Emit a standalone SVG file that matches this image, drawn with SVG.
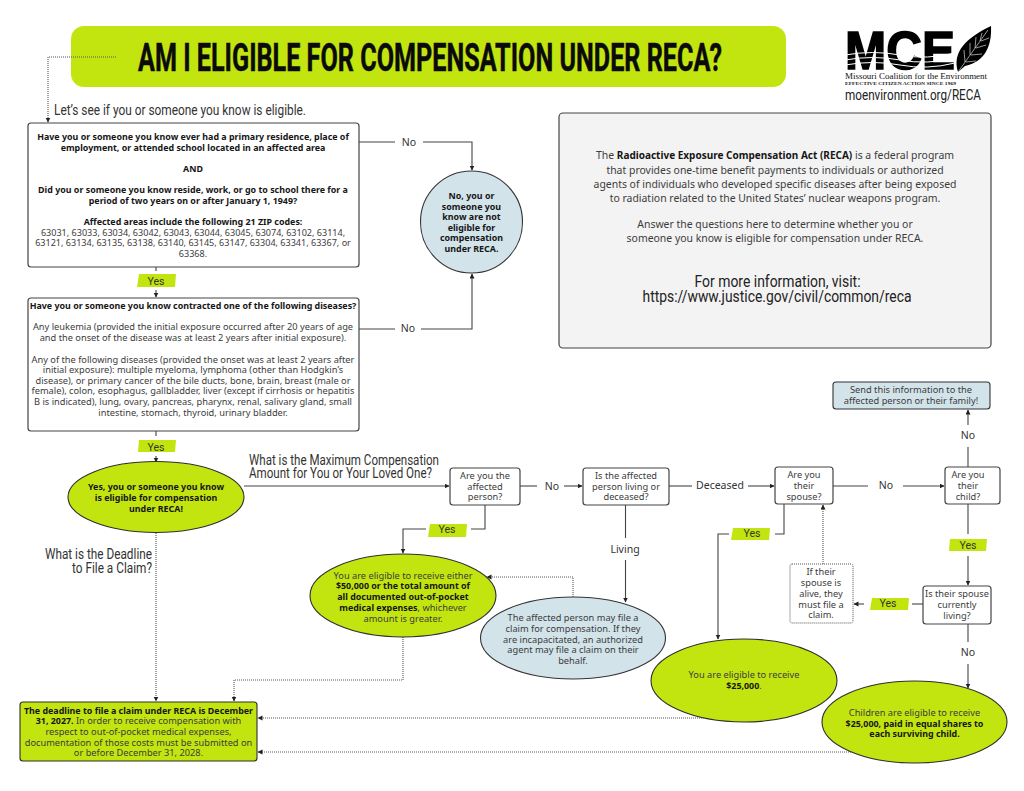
<svg xmlns="http://www.w3.org/2000/svg" width="1024" height="791" viewBox="0 0 1024 791">
<style>
text{font-family:"Noto Sans","Open Sans",sans-serif;font-size:9.25px;fill:#3c3c3c;text-anchor:middle}
.b{font-weight:700;fill:#161616;font-size:8.9px}
.n{font-family:"Liberation Sans Narrow","Roboto",sans-serif}
.h{font-family:"Liberation Sans Narrow","Roboto",sans-serif;fill:#333;text-anchor:start;font-size:15px}
.box{fill:#fff;stroke:#444;stroke-width:1.2}
.grn{fill:#c3e50f;stroke:#2e2e2e;stroke-width:1.1}
.blu{fill:#d2e3ea;stroke:#333;stroke-width:1.1}
.c{fill:none;stroke:#444;stroke-width:1.1}
.a{marker-end:url(#ah)}
.d{fill:none;stroke:#555;stroke-width:1.1;stroke-dasharray:1 1}
.tag{fill:#c3e50f}
.t{font-size:10.5px;fill:#333}
</style>
<defs>
<marker id="ah" markerUnits="userSpaceOnUse" markerWidth="6" markerHeight="6" refX="4.5" refY="2.5" orient="auto"><path d="M0 0L5 2.5L0 5z" fill="#222"/></marker>
</defs>
<rect width="1024" height="791" fill="#fff"/>
<g id="title">
<rect x="71" y="26" width="715" height="61" rx="13" fill="#c3e50f"/>
<text x="138" y="71" textLength="584" lengthAdjust="spacingAndGlyphs" style="font-family:'Liberation Sans Narrow',Roboto,sans-serif;font-weight:700;font-size:38px;fill:#0b0b0b;text-anchor:start;stroke:#0b0b0b;stroke-width:.5">AM I ELIGIBLE FOR COMPENSATION UNDER RECA?</text>
</g>
<g id="logo">
<text x="845" y="69" textLength="110" lengthAdjust="spacingAndGlyphs" style="font-family:'Liberation Sans',sans-serif;font-weight:700;font-size:53px;fill:#000;text-anchor:start;stroke:#000;stroke-width:1.5">MCE</text>
<path d="M845 55q28-5 55 0t55-2M845 60q28-5 55 0t55-2M845 65q28-5 55 0t55-2" fill="none" stroke="#fff" stroke-width="1"/>
<path d="M958 72C952 52 966 38 991 26C992 44 986 62 965 66L958 72z" fill="#000"/>
<path d="M958 72L988 30M965 62L964 50M970 55L970 43M975 48L976 37M980 41L982 33M966 62L976 61M971 55L982 54M976 48L986 45M981 41L989 38" fill="none" stroke="#fff" stroke-width=".6"/>
<text x="845" y="79" textLength="142" lengthAdjust="spacingAndGlyphs" style="font-family:'Liberation Serif',serif;font-size:8.6px;fill:#111;text-anchor:start">Missouri Coalition for the Environment</text>
<text x="845" y="85" textLength="111" lengthAdjust="spacingAndGlyphs" style="font-family:'Liberation Serif',serif;font-size:5px;font-weight:700;fill:#222;text-anchor:start">EFFECTIVE CITIZEN ACTION SINCE 1969</text>
<text x="845" y="100" textLength="136" lengthAdjust="spacingAndGlyphs" class="n" style="font-size:15px;fill:#222;text-anchor:start">moenvironment.org/RECA</text>
</g>
<text x="54" y="115" textLength="252" lengthAdjust="spacingAndGlyphs" class="h" style="font-size:15px">Let’s see if you or someone you know is eligible.</text>
<g id="connectors">
<path class="d a" d="M116 57H48V122"/>
<path class="c" d="M359 142H395M423 142H472V170" marker-end="url(#ah)"/>
<path class="c" d="M359 329H395M421 329H472V274" marker-end="url(#ah)"/>
<path class="c" d="M156 267V271M156 431V436"/>
<path class="c a" d="M156 290V297"/>
<path class="c a" d="M156 456V462"/>
<path class="c a" d="M244 486H449"/>
<path class="c" d="M520 486H537"/>
<path class="c a" d="M564 486H582"/>
<path class="c" d="M669 486H692"/>
<path class="c a" d="M748 486H774"/>
<path class="c" d="M833 486H868"/>
<path class="c a" d="M903 486H944"/>
<path class="c" d="M968 467V447"/>
<path class="c a" d="M968 425V410"/>
<path class="c" d="M968 504V534"/>
<path class="c a" d="M968 556V585"/>
<path class="c" d="M923 604H912"/>
<path class="c a" d="M864 604H854"/>
<path class="d a" d="M823 564V505"/>
<path class="c" d="M784 504V534H775"/>
<path class="c a" d="M729 534H718V639"/>
<path class="c" d="M485 505V529H471"/>
<path class="c a" d="M426 529H403V553"/>
<path class="c" d="M625.500 505V538"/>
<path class="c a" d="M625.500 560V602"/>
<path class="c" d="M968 624V642"/>
<path class="c a" d="M968 664V688"/>
<path class="d a" d="M573 597V577H487"/>
<path class="d a" d="M403 637V680H234V701"/>
<path class="d a" d="M156 533V701"/>
<path class="d a" d="M710 718H258"/>
<path class="d a" d="M855 752H258"/>
</g>
<g id="labels">
<text x="409" y="146" class="t">No</text>
<text x="408" y="332" class="t">No</text>
<text x="552" y="490" class="t">No</text>
<text x="720" y="489" class="t">Deceased</text>
<text x="886" y="489" class="t">No</text>
<text x="968" y="439" class="t">No</text>
<text x="625" y="553" class="t">Living</text>
<text x="968" y="656" class="t">No</text>
</g>
<g id="tags">
<polygon class="tag" points="139,274 176,274 175,287 137,287"/><text x="156" y="285" class="t n">Yes</text>
<polygon class="tag" points="139,440 176,440 175,452 138,452"/><text x="156" y="451" class="t n">Yes</text>
<polygon class="tag" points="430,524 467,524 466,537 428,537"/><text x="447" y="533" class="t n">Yes</text>
<polygon class="tag" points="733,528 770,528 769,540 731,540"/><text x="752" y="537" class="t n">Yes</text>
<polygon class="tag" points="950,539 987,539 986,551 949,551"/><text x="968" y="549" class="t n">Yes</text>
<polygon class="tag" points="872,598 909,598 908,610 870,610"/><text x="888" y="607" class="t n">Yes</text>
</g>
<g id="q1">
<rect class="box" x="28" y="123" width="331" height="144" rx="3"/>
<text class="b"><tspan x="193" y="140">Have you or someone you know ever had a primary residence, place of</tspan><tspan x="193" y="151">employment, or attended school located in an affected area</tspan><tspan x="193" y="172">AND</tspan><tspan x="193" y="193">Did you or someone you know reside, work, or go to school there for a</tspan><tspan x="193" y="204">period of two years on or after January 1, 1949?</tspan><tspan x="193" y="225">Affected areas include the following 21 ZIP codes:</tspan></text>
<text style="font-size:9.05px"><tspan x="193" y="236">63031, 63033, 63034, 63042, 63043, 63044, 63045, 63074, 63102, 63114,</tspan><tspan x="193" y="246">63121, 63134, 63135, 63138, 63140, 63145, 63147, 63304, 63341, 63367, or</tspan><tspan x="193" y="257">63368.</tspan></text>
</g>
<g id="notEligible">
<circle class="blu" cx="471.500" cy="222" r="51"/>
<text class="b"><tspan x="471.500" y="199">No, you or</tspan><tspan x="471.500" y="210">someone you</tspan><tspan x="471.500" y="220">know are not</tspan><tspan x="471.500" y="231">eligible for</tspan><tspan x="471.500" y="241">compensation</tspan><tspan x="471.500" y="252">under RECA.</tspan></text>
</g>
<g id="q2">
<rect class="box" x="28" y="298" width="331" height="133" rx="3"/>
<text class="b" x="193" y="309">Have you or someone you know contracted one of the following diseases?</text>
<text><tspan x="193" y="330">Any leukemia (provided the initial exposure occurred after 20 years of age</tspan><tspan x="193" y="341">and the onset of the disease was at least 2 years after initial exposure).</tspan><tspan x="193" y="363">Any of the following diseases (provided the onset was at least 2 years after</tspan><tspan x="193" y="373">initial exposure): multiple myeloma, lymphoma (other than Hodgkin’s</tspan><tspan x="193" y="384">disease), or primary cancer of the bile ducts, bone, brain, breast (male or</tspan><tspan x="193" y="394">female), colon, esophagus, gallbladder, liver (except if cirrhosis or hepatitis</tspan><tspan x="193" y="405">B is indicated), lung, ovary, pancreas, pharynx, renal, salivary gland, small</tspan><tspan x="193" y="416">intestine, stomach, thyroid, urinary bladder.</tspan></text>
</g>
<g id="eligible">
<ellipse class="grn" cx="156" cy="497" rx="88" ry="35.500"/>
<text class="b"><tspan x="156" y="490">Yes, you or someone you know</tspan><tspan x="156" y="501">is eligible for compensation</tspan><tspan x="156" y="512">under RECA!</tspan></text>
</g>
<text class="h" x="249" y="465" textLength="190" lengthAdjust="spacingAndGlyphs">What is the Maximum Compensation</text>
<text class="h" x="249" y="478" textLength="183" lengthAdjust="spacingAndGlyphs">Amount for You or Your Loved One?</text>
<text class="h" style="text-anchor:end" x="152" y="559" textLength="107" lengthAdjust="spacingAndGlyphs">What is the Deadline</text>
<text class="h" style="text-anchor:end" x="152" y="573" textLength="80" lengthAdjust="spacingAndGlyphs">to File a Claim?</text>
<g id="info">
<rect x="559" y="113" width="432" height="235" rx="4" fill="#f3f3f3" stroke="#444" stroke-width="1.2"/>
<text style="font-size:10.450px"><tspan x="775" y="159">The <tspan class="b" style="font-size:10px">Radioactive Exposure Compensation Act (RECA)</tspan> is a federal program</tspan><tspan x="775" y="173.500">that provides one-time benefit payments to individuals or authorized</tspan><tspan x="775" y="188">agents of individuals who developed specific diseases after being exposed</tspan><tspan x="775" y="202">to radiation related to the United States’ nuclear weapons program.</tspan><tspan x="775" y="227.500">Answer the questions here to determine whether you or</tspan><tspan x="775" y="242">someone you know is eligible for compensation under RECA.</tspan></text>
<text class="n" x="777.500" y="287" textLength="166" lengthAdjust="spacingAndGlyphs" style="font-size:17px;fill:#222">For more information, visit:</text>
<text class="n" x="777" y="302" textLength="269" lengthAdjust="spacingAndGlyphs" style="font-size:17px;fill:#222">https://www.justice.gov/civil/common/reca</text>
</g>
<g id="qAffected"><rect class="box" x="450" y="468" width="70" height="37" rx="3"/><text><tspan x="485" y="479">Are you the</tspan><tspan x="485" y="490">affected</tspan><tspan x="485" y="500">person?</tspan></text></g>
<g id="qLiving"><rect class="box" x="583" y="468" width="86" height="37" rx="3"/><text><tspan x="626" y="479">Is the affected</tspan><tspan x="626" y="490">person living or</tspan><tspan x="626" y="500">deceased?</tspan></text></g>
<g id="qSpouse"><rect class="box" x="775" y="467" width="58" height="37" rx="3"/><text><tspan x="804" y="478">Are you</tspan><tspan x="804" y="489">their</tspan><tspan x="804" y="500">spouse?</tspan></text></g>
<g id="qChild"><rect class="box" x="945" y="467" width="55" height="37" rx="3"/><text><tspan x="968" y="478">Are you</tspan><tspan x="968" y="489">their</tspan><tspan x="968" y="500">child?</tspan></text></g>
<g id="send"><rect class="blu" x="833" y="382" width="157" height="27" rx="3"/><text><tspan x="911" y="393">Send this information to the</tspan><tspan x="911" y="404">affected person or their family!</tspan></text></g>
<g id="qCurrently"><rect class="box" x="923" y="586" width="68" height="38" rx="3"/><text><tspan x="957" y="597">Is their spouse</tspan><tspan x="957" y="608">currently</tspan><tspan x="957" y="619">living?</tspan></text></g>
<g id="mustFile"><rect x="790" y="564" width="63" height="59" rx="2" fill="#fff" stroke="#555" stroke-width="1" stroke-dasharray="1 1"/><text><tspan x="821" y="575">If their</tspan><tspan x="821" y="586">spouse is</tspan><tspan x="821" y="597">alive, they</tspan><tspan x="821" y="608">must file a</tspan><tspan x="821" y="618">claim.</tspan></text></g>
<g id="e50k"><ellipse class="grn" cx="403" cy="595.500" rx="93" ry="41.500"/><text><tspan x="403" y="579">You are eligible to receive either</tspan><tspan class="b" x="403" y="589">$50,000 or the total amount of</tspan><tspan class="b" x="403" y="600">all documented out-of-pocket</tspan><tspan x="403" y="611"><tspan class="b">medical expenses</tspan>, whichever</tspan><tspan x="403" y="622">amount is greater.</tspan></text></g>
<g id="eMayFile"><ellipse class="blu" cx="573" cy="638" rx="92.500" ry="41"/><text><tspan x="573" y="621">The affected person may file a</tspan><tspan x="573" y="632">claim for compensation. If they</tspan><tspan x="573" y="643">are incapacitated, an authorized</tspan><tspan x="573" y="653">agent may file a claim on their</tspan><tspan x="573" y="664">behalf.</tspan></text></g>
<g id="e25k"><ellipse class="grn" cx="744" cy="680.500" rx="93" ry="41.500"/><text><tspan x="744" y="678">You are eligible to receive</tspan><tspan x="744" y="689"><tspan class="b">$25,000</tspan>.</tspan></text></g>
<g id="eChildren"><ellipse class="grn" cx="914.500" cy="722" rx="92.500" ry="41"/><text><tspan x="914.500" y="716">Children are eligible to receive</tspan><tspan class="b" x="914.500" y="726.500">$25,000, paid in equal shares to</tspan><tspan class="b" x="914.500" y="737">each surviving child.</tspan></text></g>
<g id="deadline"><rect class="grn" x="20" y="702" width="237" height="59" rx="3"/><text><tspan class="b" x="138.500" y="714">The deadline to file a claim under RECA is December</tspan><tspan x="138.500" y="724"><tspan class="b">31, 2027.</tspan> In order to receive compensation with</tspan><tspan x="138.500" y="735">respect to out-of-pocket medical expenses,</tspan><tspan x="138.500" y="746">documentation of those costs must be submitted on</tspan><tspan x="138.500" y="756">or before December 31, 2028.</tspan></text></g>
</svg>
